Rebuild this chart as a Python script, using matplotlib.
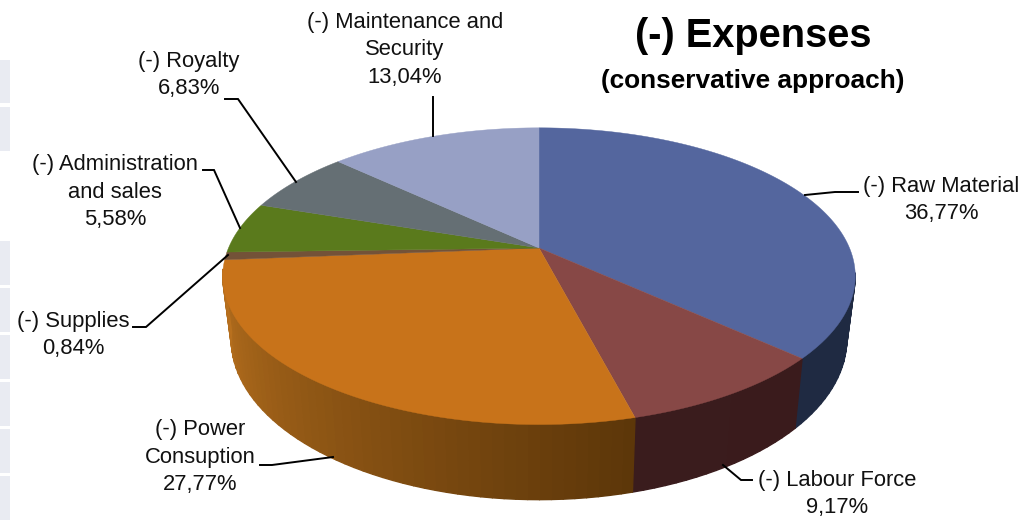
"""
Expenses pie chart, drawn as a 3D pie with a small perspective.
"""

import matplotlib.pyplot as plt
import numpy as np
from matplotlib.collections import PolyCollection
from matplotlib.colors import to_rgb
from matplotlib.patches import Polygon, Rectangle

plt.rcParams["font.family"] = ["Liberation Sans", "DejaVu Sans"]


# ==========================================================
# Data
# ==========================================================

names = [
    "Raw Material",
    "Labour Force",
    "Power\nConsuption",
    "Supplies",
    "Administration\nand sales",
    "Royalty",
    "Maintenance and\nSecurity",
]
shares = [36.77, 9.17, 27.77, 0.84, 5.58, 6.83, 13.04]

top_colors = ["#54669e", "#874846", "#c8731a", "#735238", "#5a7a1c", "#656f74", "#97a0c5"]
side_start = ["#1f2a42", "#3a1b1c", "#5c3609", "#735238", "#5a7a1c", "#656f74", "#97a0c5"]
side_end = ["#1f2a42", "#3a1c1d", "#bc731f", "#735238", "#5a7a1c", "#656f74", "#97a0c5"]

label_xy = [
    (941, 200), (837, 494), (200, 457), (73, 335),
    (115, 192), (189, 75), (405, 50),
]
leaders = [
    [(858, 192), (835, 192), (805, 195)],
    [(752, 480), (741, 480), (723, 465)],
    [(260, 465), (272, 465), (333, 457)],
    [(133, 327), (146, 327), (228, 255)],
    [(203, 170), (214, 170), (240, 228)],
    [(225, 99), (238, 99), (296, 182)],
    [(433, 97), (433, 136)],
]

# pale table cells cut off at the left edge
cell_rows = [(60, 103), (107, 151), (241, 285), (288, 332), (335, 379), (382, 426), (429, 473), (476, 520)]


# ==========================================================
# Projection
# ==========================================================

CX, CY = 539, 248
RX, RY, K = 310.5, 143, 0.19


def top_point(t):
    """
    Point of the top rim, t in radians clockwise from twelve o'clock.
    """

    w = 1 + K * np.cos(t)

    return CX + RX * np.sin(t) / w, CY - RY * np.cos(t) / w


def bottom_point(t):
    """
    Point of the bottom rim, a bit narrower and lower than the top.
    """

    x, y = top_point(t)

    return CX + 0.973 * (x - CX), CY + 61 + 1.08 * (y - CY)


# ==========================================================
# Figure
# ==========================================================

fig = plt.figure(figsize=(10.21, 5.21), dpi=100)
ax = fig.add_axes([0, 0, 1, 1])
ax.set_xlim(0, 1021)
ax.set_ylim(521, 0)
ax.axis("off")

for y0, y1 in cell_rows:
    ax.add_patch(Rectangle((0, y0), 10, y1 - y0, color="#e9ebf2", lw=0))

edges = 2 * np.pi * np.cumsum([0] + shares) / sum(shares)

# side wall, only the part facing the viewer
quads = []
quad_colors = []
for i in range(len(shares)):
    n = max(2, int(shares[i] * 2))
    ts = np.linspace(edges[i], edges[i + 1], n + 1)
    c0 = np.array(to_rgb(side_start[i]))
    c1 = np.array(to_rgb(side_end[i]))
    for j in range(n):
        if np.cos(ts[j]) > -0.15:
            continue
        quads.append([
            top_point(ts[j]),
            top_point(ts[j + 1]),
            bottom_point(ts[j + 1]),
            bottom_point(ts[j]),
        ])
        quad_colors.append(c0 + (c1 - c0) * (j + 0.5) / n)

ax.add_collection(PolyCollection(
    quads,
    facecolors=quad_colors,
    edgecolors=quad_colors,
    linewidths=1.0,
    zorder=2,
))

# top surface
for i in range(len(shares)):
    ts = np.linspace(edges[i], edges[i + 1], max(4, int(shares[i] * 6)))
    rim = [top_point(t) for t in ts]
    ax.add_patch(Polygon(
        [(CX, CY)] + rim,
        closed=True,
        facecolor=top_colors[i],
        edgecolor=top_colors[i],
        lw=0.3,
        zorder=3,
    ))

# labels and leader lines
for i in range(len(shares)):
    first, *rest = names[i].split("\n")
    lines = ["(-) " + first] + rest + [f"{shares[i]:.2f}%".replace(".", ",")]
    ax.text(
        label_xy[i][0],
        label_xy[i][1],
        "\n".join(lines),
        ha="center",
        va="center",
        fontsize=15.8,
        linespacing=1.43,
        color="#111111",
        zorder=5,
    )
    xs, ys = zip(*leaders[i])
    ax.plot(xs, ys, color="black", lw=1.4, zorder=4, solid_joinstyle="miter")

ax.text(753, 36, "(-) Expenses", ha="center", va="center", fontsize=28.6, fontweight="bold", color="black")
ax.text(753, 81, "(conservative approach)", ha="center", va="center", fontsize=18.9, fontweight="bold", color="black")

fig.savefig("out.png", dpi=100)
plt.close(fig)
